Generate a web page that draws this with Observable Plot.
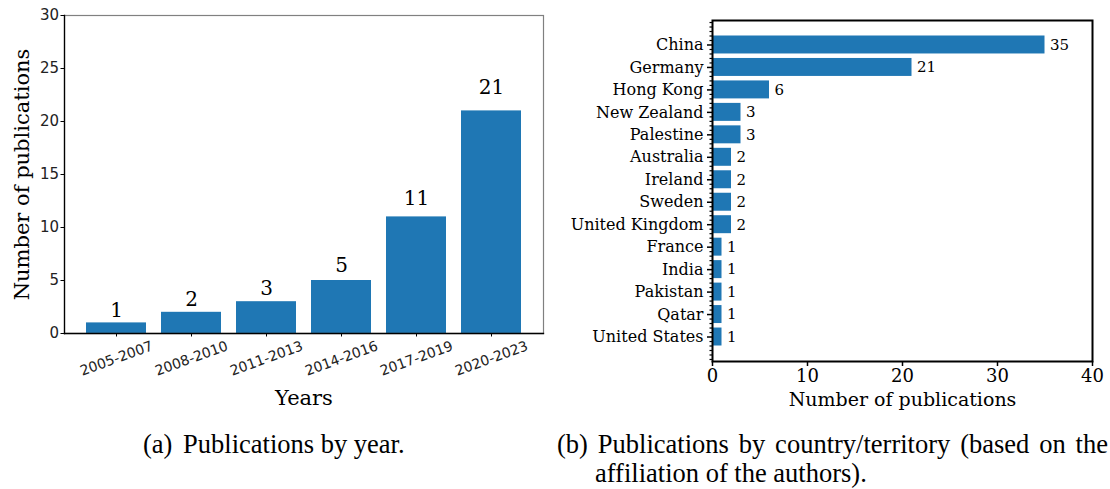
<!DOCTYPE html>
<html>
<head>
<meta charset="utf-8">
<script src="https://cdn.jsdelivr.net/npm/d3@7"></script>
<script src="https://cdn.jsdelivr.net/npm/@observablehq/plot@0.6"></script>
<style>
  html, body { margin: 0; padding: 0; background: #fff; }
  #page { position: relative; width: 1110px; height: 489px; overflow: hidden; background: #fff; }
  .panel { position: absolute; top: 0; }
  .cap {
    position: absolute;
    font-family: "Liberation Serif", "Times New Roman", Times, serif;
    font-size: 26.5px;
    line-height: 30px;
    color: #000;
    white-space: nowrap;
  }
  .tag { margin-right: 4px; }
</style>
</head>
<body>
<div id="page">
  <div id="a" class="panel" style="left:0"></div>
  <div id="b" class="panel" style="left:555px"></div>
  <div class="cap" style="left:143px;top:429px"><span class="tag">(a)</span> Publications by year.</div>
  <div class="cap" style="left:557px;top:429px;width:551px;text-align:justify;text-align-last:justify;white-space:normal">(b) Publications by country/territory (based on the</div>
  <div class="cap" style="left:595px;top:458px">affiliation of the authors).</div>
</div>
<script>
// Publications per period
const periods = ["2005-2007", "2008-2010", "2011-2013", "2014-2016", "2017-2019", "2020-2023"];
const periodCounts = [1, 2, 3, 5, 11, 21];
const yearTicks = [0, 5, 10, 15, 20, 25, 30];

// Publications per country/territory (author affiliation)
const countries = ["China", "Germany", "Hong Kong", "New Zealand", "Palestine", "Australia", "Ireland",
  "Sweden", "United Kingdom", "France", "India", "Pakistan", "Qatar", "United States"];
const countryCounts = [35, 21, 6, 3, 3, 2, 2, 2, 2, 1, 1, 1, 1, 1];
const countryTicks = [0, 10, 20, 30, 40];

const blue = "#1f77b4";
const serif = "DejaVu Serif";
const sans = "DejaVu Sans";

const byYear = periods.map((period, i) => ({period, count: periodCounts[i]}));

const chartA = Plot.plot({
  width: 555,
  height: 415,
  marginLeft: 64,
  marginRight: 12,
  marginTop: 15,
  marginBottom: 82,
  style: {fontFamily: serif, background: "white", color: "#000", overflow: "visible"},
  x: {domain: periods, paddingInner: 0.2, paddingOuter: 0.29},
  y: {domain: [0, 30]},
  marks: [
    Plot.barY(byYear, {x: "period", y: "count", fill: blue}),
    Plot.frame({stroke: "#808080", strokeWidth: 1.2}),
    Plot.frame({anchor: "left", stroke: "#000", strokeWidth: 1.3}),
    Plot.frame({anchor: "bottom", stroke: "#000", strokeWidth: 1.3}),
    Plot.axisY({ticks: yearTicks, tickSize: 3.5, tickPadding: 2, fontFamily: sans, fontSize: 15, fill: "#222", label: null}),
    Plot.axisX({tickSize: 3.5, tickFormat: () => "", label: null}),
    Plot.text(byYear, {x: "period", text: "period", frameAnchor: "bottom", dy: 25, rotate: -20,
      textAnchor: "middle", lineAnchor: "middle", fontFamily: sans, fontSize: 14, fill: "#222"}),
    Plot.text(byYear, {x: "period", y: d => d.count * 1.05, text: d => String(d.count), dy: -12,
      lineAnchor: "middle", fontSize: 20}),
    Plot.text(["Years"], {frameAnchor: "bottom", dy: 65, lineAnchor: "middle", fontSize: 21}),
    Plot.text(["Number of publications"], {frameAnchor: "left", dx: -42, rotate: -90,
      textAnchor: "middle", lineAnchor: "middle", fontSize: 21})
  ]
});
document.getElementById("a").append(chartA);

// Horizontal bars on a numeric index axis (China on top)
const byCountry = countries.map((country, i) => ({country, count: countryCounts[i], i}));
const n = countries.length;
const lo = -0.4, hi = n - 1 + 0.4, pad = 0.05 * (hi - lo);
const minorTicks = d3.range(-5, 5 * n + 1)
  .filter(k => !(k % 5 === 0 && k >= 0 && k / 5 < n))
  .map(k => k / 5);

const chartB = Plot.plot({
  width: 555,
  height: 415,
  marginLeft: 157,
  marginRight: 18,
  marginTop: 20,
  marginBottom: 54,
  style: {fontFamily: serif, background: "white", color: "#000", overflow: "visible"},
  x: {domain: [0, 40]},
  y: {domain: [lo - pad, hi + pad], reverse: true},
  marks: [
    Plot.rect(byCountry, {x1: 0, x2: "count", y1: d => d.i - 0.4, y2: d => d.i + 0.4, fill: blue}),
    Plot.text(byCountry, {x: "count", y: "i", text: d => String(d.count), dx: 5, textAnchor: "start",
      lineAnchor: "middle", fontSize: 15}),
    Plot.axisY({ticks: d3.range(n), tickFormat: i => countries[i], tickSize: 5, tickPadding: 4,
      fontSize: 16, strokeWidth: 1.5, label: null}),
    Plot.axisY({ticks: minorTicks, tickSize: 2.5, tickFormat: () => "", strokeWidth: 1.2, label: null}),
    Plot.axisX({ticks: countryTicks, tickSize: 5, tickPadding: 3, fontSize: 18, strokeWidth: 1.5, label: null}),
    Plot.text(["Number of publications"], {frameAnchor: "bottom", dy: 38, lineAnchor: "middle", fontSize: 19}),
    Plot.frame({stroke: "#000", strokeWidth: 2})
  ]
});
document.getElementById("b").append(chartB);
</script>
</body>
</html>
